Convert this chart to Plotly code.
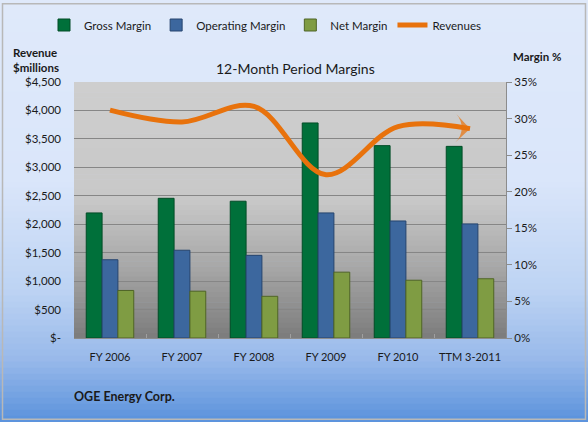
import plotly.graph_objects as go

categories = ["FY 2006", "FY 2007", "FY 2008", "FY 2009", "FY 2010", "TTM 3-2011"]
gross_margin = [17.1, 19.1, 18.7, 29.4, 26.3, 26.2]
operating_margin = [10.7, 12.0, 11.3, 17.1, 16.0, 15.6]
net_margin = [6.5, 6.4, 5.7, 9.0, 7.9, 8.1]
revenues = [4005, 3797, 4070, 2870, 3717, 3680]

rev_ticks = [0, 500, 1000, 1500, 2000, 2500, 3000, 3500, 4000, 4500]
rev_ticktext = ["$-", "$500", "$1,000", "$1,500", "$2,000", "$2,500",
                "$3,000", "$3,500", "$4,000", "$4,500"]
pct_ticks = [0, 5, 10, 15, 20, 25, 30, 35]
pct_ticktext = ["0%", "5%", "10%", "15%", "20%", "25%", "30%", "35%"]

W, H = 588, 422
L, R, T, B = 74, 82, 81, 84
PW, PH = W - L - R, H - T - B
FONT = "Lato"


def px_x(px):
    return (px - L) / PW


def px_y(py):
    return (H - B - py) / PH


def hex2rgb(h):
    h = h.lstrip("#")
    return tuple(int(h[i:i + 2], 16) for i in (0, 2, 4))


def color_at(stops, p):
    for (p0, c0), (p1, c1) in zip(stops, stops[1:]):
        if p0 <= p <= p1:
            t = (p - p0) / (p1 - p0) if p1 > p0 else 0
            a, b = hex2rgb(c0), hex2rgb(c1)
            return "rgb(%d,%d,%d)" % tuple(round(a[i] + (b[i] - a[i]) * t) for i in range(3))
    return stops[-1][1]


shapes = []
# page background gradient
page_stops = [(0, "#dfe9fa"), (180, "#dae6fa"), (290, "#bdd3f3"), (360, "#98b9ea"), (422, "#5a92dc")]
n = 70
for i in range(n):
    y0 = H * i / n
    y1 = H * (i + 1) / n + 0.6
    shapes.append(dict(type="rect", xref="paper", yref="paper", layer="below",
                       x0=px_x(0), x1=px_x(W), y0=px_y(y1), y1=px_y(y0),
                       fillcolor=color_at(page_stops, (y0 + y1) / 2), line_width=0))
# plot area gradient
plot_stops = [(81, "#cecece"), (200, "#c8c8c8"), (265, "#a8a8a8"), (338, "#7c7c7c")]
n = 50
for i in range(n):
    y0 = T + PH * i / n
    y1 = T + PH * (i + 1) / n + 0.5
    shapes.append(dict(type="rect", xref="paper", yref="paper", layer="below",
                       x0=0, x1=1, y0=px_y(min(y1, H - B)), y1=px_y(y0),
                       fillcolor=color_at(plot_stops, (y0 + y1) / 2), line_width=0))
# outer border
shapes.append(dict(type="rect", xref="paper", yref="paper", layer="above",
                   x0=px_x(2.5), x1=px_x(585.5), y0=px_y(419.5), y1=px_y(2.5),
                   line=dict(color="#b8b8b8", width=1.5)))

fig = go.Figure()
fig.add_trace(go.Bar(x=categories, y=gross_margin, name="Gross Margin",
                     marker=dict(color="#00703a", line=dict(color="#024d27", width=1))))
fig.add_trace(go.Bar(x=categories, y=operating_margin, name="Operating Margin",
                     marker=dict(color="#3c679e", line=dict(color="#26456e", width=1))))
fig.add_trace(go.Bar(x=categories, y=net_margin, name="Net Margin",
                     marker=dict(color="#7f9c43", line=dict(color="#4f6426", width=1))))
fig.add_trace(go.Scatter(x=categories, y=revenues, name="Revenues", yaxis="y2",
                         mode="lines", line=dict(color="#e8720c", width=5, shape="spline")))
fig.add_trace(go.Scatter(x=categories[-2:], y=revenues[-2:], yaxis="y2", mode="markers",
                         showlegend=False, hoverinfo="skip",
                         marker=dict(symbol="arrow-wide", angleref="previous",
                                     size=[0, 20], color="#e8720c", line_width=0)))

fig.update_layout(
    width=W, height=H,
    margin=dict(l=L, r=R, t=T, b=B),
    paper_bgcolor="#dfe9fa",
    plot_bgcolor="rgba(0,0,0,0)",
    font=dict(family=FONT, size=11, color="#1a1a1a"),
    barmode="group", bargap=0.34, bargroupgap=0,
    showlegend=True,
    legend=dict(orientation="h", x=px_x(44), y=px_y(25), xanchor="left", yanchor="middle",
                bgcolor="rgba(0,0,0,0)", itemwidth=30, tracegroupgap=0,
                font=dict(size=11.5, family=FONT)),
    xaxis=dict(type="category", showgrid=False, showline=True, linecolor="#8c8c8c",
               ticks="inside", tickson="boundaries", ticklen=4, tickcolor="#a0a0a0",
               tickangle=0, ticklabelstandoff=9, tickfont=dict(size=11)),
    yaxis=dict(side="right", range=[0, 35], tickvals=pct_ticks, ticktext=pct_ticktext,
               showgrid=False, zeroline=False, showline=True, linecolor="#8c8c8c",
               ticks="outside", ticklen=5, tickcolor="#8c8c8c", tickfont=dict(size=11.5)),
    yaxis2=dict(overlaying="y", side="left", range=[0, 4500], tickvals=rev_ticks,
                ticktext=rev_ticktext, showgrid=True, gridcolor="#868686", gridwidth=1,
                zeroline=False, showline=False, ticks="", ticklabelstandoff=12,
                tickfont=dict(size=11.5)),
    shapes=shapes,
    annotations=[
        dict(text="12-Month Period Margins", xref="paper", yref="paper",
             x=px_x(295), y=px_y(67), xanchor="center", yanchor="middle",
             showarrow=False, font=dict(size=14, family=FONT)),
        dict(text="<b>Revenue<br>$millions</b>", xref="paper", yref="paper",
             x=px_x(11), y=px_y(59), xanchor="left", yanchor="middle", align="left",
             showarrow=False, font=dict(size=11.5, family=FONT)),
        dict(text="<b>Margin %</b>", xref="paper", yref="paper",
             x=px_x(511), y=px_y(55), xanchor="left", yanchor="middle",
             showarrow=False, font=dict(size=11.5, family=FONT)),
        dict(text="<b>OGE Energy Corp.</b>", xref="paper", yref="paper",
             x=px_x(72), y=px_y(397), xanchor="left", yanchor="middle",
             showarrow=False, font=dict(size=12.5, family=FONT)),
    ],
)

fig.write_html("out.html", config={"displayModeBar": False},
               post_script="document.body.style.margin='0';")
